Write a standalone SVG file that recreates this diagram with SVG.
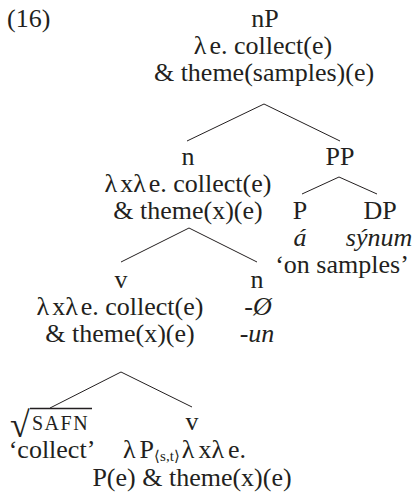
<svg xmlns="http://www.w3.org/2000/svg" width="420" height="501" viewBox="0 0 420 501">
<style>
text{font-family:"Liberation Serif","Times New Roman",serif;font-size:26px;fill:#231f20;text-anchor:middle}
.it{font-style:italic}
.l{text-anchor:start}
.sc{font-size:20px;letter-spacing:1.5px}
.sub{font-size:15px}
.rad{font-size:36px}
#edges line{stroke:#231f20;stroke-width:1}
</style>
<rect width="420" height="501" fill="#fff"/>
<text class="l" x="7" y="27">(16)</text>
<g id="edges">
<line x1="264" y1="104" x2="187" y2="141"/>
<line x1="264" y1="104" x2="340" y2="141"/>
<line x1="339" y1="177" x2="302" y2="194"/>
<line x1="339" y1="177" x2="377" y2="194"/>
<line x1="189" y1="228" x2="121" y2="262"/>
<line x1="189" y1="228" x2="257" y2="262"/>
<line x1="121" y1="372" x2="50" y2="408"/>
<line x1="121" y1="372" x2="192" y2="407"/>
</g>
<g id="nP">
<text x="265" y="27">nP</text>
<text x="263" y="54">λ<tspan dx="3">e. collect(e)</tspan></text>
<text x="264" y="81">&amp; theme(samples)(e)</text>
</g>
<g id="n1">
<text x="188" y="165">n</text>
<text x="188" y="192">λ<tspan dx="3">x</tspan>λ<tspan dx="3">e. collect(e)</tspan></text>
<text x="188" y="219">&amp; theme(x)(e)</text>
</g>
<g id="PP">
<text x="340" y="165">PP</text>
</g>
<g id="P">
<text x="300" y="219">P</text>
<text class="it" x="300" y="246">á</text>
</g>
<g id="DP">
<text x="380" y="219">DP</text>
<text class="it" x="379" y="246">sýnum</text>
</g>
<g id="PPgloss">
<text x="342" y="273">‘on samples’</text>
</g>
<g id="v1">
<text x="121" y="288">v</text>
<text x="120" y="315">λ<tspan dx="3">x</tspan>λ<tspan dx="3">e. collect(e)</tspan></text>
<text x="120" y="342">&amp; theme(x)(e)</text>
</g>
<g id="n2">
<text x="257" y="288">n</text>
<text class="it" x="258" y="315">-Ø</text>
<text class="it" x="257" y="342">-un</text>
</g>
<g id="root">
<text class="l rad" x="10" y="437">√</text>
<line x1="30" y1="408.5" x2="92" y2="408.5" stroke="#231f20" stroke-width="1.5"/>
<text class="l sc" x="32" y="430">SAFN</text>
<text x="52" y="458">‘collect’</text>
</g>
<g id="v2">
<text x="192" y="430">v</text>
<text class="l" x="123" y="458">λ<tspan dx="4">P</tspan><tspan class="sub" dy="3">⟨s,t⟩</tspan><tspan dy="-3" dx="2">λ</tspan><tspan dx="4">x</tspan>λ<tspan dx="4">e.</tspan></text>
<text x="192" y="486">P(e) &amp; theme(x)(e)</text>
</g>
</svg>
